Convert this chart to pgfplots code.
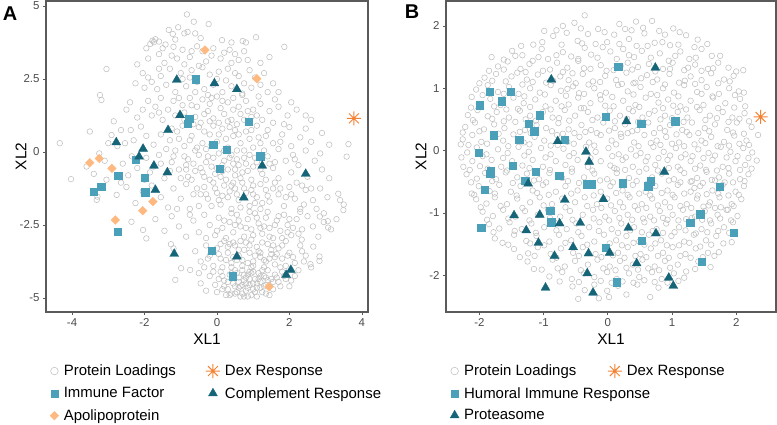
\documentclass[border=0pt]{standalone}
\usepackage{fontspec}
\setmainfont{Liberation Sans}
\usepackage{pgfplots}
\pgfplotsset{compat=1.18}

\definecolor{ptgray}{RGB}{192,192,192}
\definecolor{immune}{RGB}{74,160,184}
\definecolor{complement}{RGB}{21,100,120}
\definecolor{apo}{RGB}{253,185,128}
\definecolor{dex}{RGB}{245,130,50}
\definecolor{frame}{RGB}{90,90,90}

% ggplot shape 8: plus and cross on top of each other
\pgfdeclareplotmark{ggast}{%
  \pgfpathmoveto{\pgfqpoint{-\pgfplotmarksize}{0pt}}%
  \pgfpathlineto{\pgfqpoint{\pgfplotmarksize}{0pt}}%
  \pgfpathmoveto{\pgfqpoint{0pt}{-\pgfplotmarksize}}%
  \pgfpathlineto{\pgfqpoint{0pt}{\pgfplotmarksize}}%
  \pgfpathmoveto{\pgfqpoint{-0.7071\pgfplotmarksize}{-0.7071\pgfplotmarksize}}%
  \pgfpathlineto{\pgfqpoint{0.7071\pgfplotmarksize}{0.7071\pgfplotmarksize}}%
  \pgfpathmoveto{\pgfqpoint{-0.7071\pgfplotmarksize}{0.7071\pgfplotmarksize}}%
  \pgfpathlineto{\pgfqpoint{0.7071\pgfplotmarksize}{-0.7071\pgfplotmarksize}}%
  \pgfusepathqstroke}

\pgfplotsset{
  ggpanel/.style={
    scale only axis, anchor=south west,
    axis line style={frame, line width=1.1bp},
    tick style={frame, line width=0.6bp},
    major tick length=3bp, tick align=outside,
    xtick pos=bottom, ytick pos=left,
    /pgf/number format/assume math mode=true,
    ticklabel style={font=\fontsize{11.5}{13}\selectfont, text=black!70},
    xlabel={XL1}, ylabel={XL2},
    every axis x label/.style={at={(axis description cs:0.5,-0.087)}, anchor=center,
      font=\fontsize{15.5}{17}\selectfont},
    legend columns=2,
    legend cell align=left,
    legend style={draw=none, fill=none, anchor=north west,
      font=\fontsize{15}{17}\selectfont, inner sep=0pt,
      row sep=6bp,
      /tikz/every odd column/.append style={column sep=3bp},
      /tikz/every even column/.append style={column sep=28bp}},
  },
  grayset/.style={only marks, mark=o, mark size=2.8bp, mark options={draw=ptgray, line width=0.55bp},
    legend image post style={mark size=3.8bp}},
  dexset/.style={only marks, mark=ggast, mark size=7bp, mark options={draw=dex, line width=1bp}},
  sqset/.style={only marks, mark=square*, mark size=3.7bp, mark options={fill=immune, draw=immune, line width=0.3bp}},
  triset/.style={only marks, mark=triangle*, mark size=5.2bp, mark options={fill=complement, draw=complement, line width=0.3bp}},
  diaset/.style={only marks, mark=square*, mark size=3.1bp, mark options={rotate=45, fill=apo, draw=apo, line width=0.3bp}},
}

\begin{document}
\begin{tikzpicture}
\useasboundingbox (0,0) rectangle (777bp,425bp);

% ---------------- panel A ----------------
\begin{axis}[ggpanel,
  at={(46bp,113bp)}, width=322bp, height=311bp,
  xmin=-4.72, xmax=4.17, ymin=-5.48, ymax=5.17,
  xtick={-4,-2,0,2,4}, ytick={-5,-2.5,0,2.5,5},
  every axis y label/.style={at={(axis description cs:-0.078,0.5)}, rotate=90, anchor=center,
    font=\fontsize{15.5}{17}\selectfont},
  legend style={at={(axis description cs:0.012,-0.163)}},
]
\addplot[grayset] coordinates {
(-0.83,4.71) (-0.64,4.46) (-0.23,4.38) (-1.07,4.27) (-1.33,4.18) (-1.22,4.04) (-0.90,4.06) (-0.81,4.11) (-0.60,4.06)
(-1.78,3.81) (-1.70,3.86) (-1.84,3.70) (-1.74,3.76) (-1.60,3.78) (-1.42,3.68) (0.14,3.83) (0.71,3.80) (0.80,3.75)
(1.08,3.93) (1.86,3.60) (-1.50,3.55) (-1.20,3.60) (-0.95,3.50) (-0.55,3.62) (-0.40,3.45) (-0.10,3.55) (0.35,3.50)
(0.50,3.35) (-1.25,3.30) (-0.75,3.25) (-1.90,3.20) (-0.30,3.10) (0.10,3.20) (0.85,3.15) (1.20,3.05) (-1.45,3.05)
(-0.90,3.00) (0.40,3.05) (-0.15,3.30) (-1.60,3.35)
(-1.15,3.85) (-0.45,3.90) (0.40,3.75) (-1.95,3.55) (-0.70,3.45) (0.20,3.40) (0.75,3.45) (-2.20,3.00) (-1.10,3.20)
(-0.50,2.95) (0.60,3.15) (1.45,3.25)
(-3.05,2.84) (-2.05,2.70) (-1.80,2.40) (-1.55,2.60) (-1.30,2.85) (-1.00,2.70) (-0.70,2.80) (-0.40,2.90) (-0.20,2.65)
(0.05,2.75) (0.30,2.85) (0.60,2.60) (0.90,2.80) (1.30,2.70) (1.55,2.35) (1.70,2.05) (-2.00,2.20) (-1.65,2.15)
(-1.40,2.30) (-1.15,2.05) (-0.85,2.25) (-0.55,2.40) (-0.35,2.15) (-0.10,2.30) (0.15,2.05) (0.40,2.25) (0.70,2.00)
(0.95,2.20) (1.20,2.30) (-0.60,2.05) (-0.25,1.95) (0.25,2.45) (-1.90,2.55) (-0.95,2.50) (0.50,2.70) (1.05,2.55)
(-2.25,2.35) (-1.60,2.85) (-0.75,2.55) (0.00,2.50) (0.75,2.35) (1.40,2.05)
(-3.23,1.95) (-3.19,1.78) (-2.40,1.70) (-2.20,1.18) (-2.38,0.75) (-2.10,0.87) (-1.90,1.75) (-1.70,1.55) (-1.55,1.85)
(-1.35,1.45) (-1.20,1.75) (-0.95,1.60) (-0.75,1.85) (-0.55,1.55) (-0.40,1.80) (-0.20,1.65) (0.00,1.90) (0.10,1.50)
(0.30,1.70) (0.45,1.85) (0.60,1.55) (0.80,1.75) (1.00,1.45) (1.20,1.65) (1.45,1.40) (1.70,1.55) (1.95,1.25)
(2.20,1.45) (2.60,1.10) (-1.80,1.25) (-1.50,1.10) (-1.15,1.25) (-0.90,1.35) (-0.60,1.20) (-0.35,1.30) (-0.10,1.15)
(0.20,1.30) (0.40,1.10) (0.65,1.30) (0.95,1.20) (1.25,1.10) (1.55,1.00) (1.85,0.95) (2.45,0.80) (-0.45,1.00)
(0.05,1.00) (0.55,0.95) (-0.70,1.60) (0.15,1.75) (0.70,1.95) (-0.25,1.40) (0.85,1.40)
(-2.50,1.45) (-2.05,1.45) (-1.60,1.35) (-1.05,1.85) (-0.15,1.85) (0.45,1.45) (1.15,1.90) (1.60,1.80) (2.05,1.70)
(2.45,1.25) (2.90,0.65) (3.10,0.25) (-2.85,1.05) (-2.65,0.75)
(-0.90,1.10) (-0.65,0.95) (-0.20,1.05) (0.30,1.05) (0.75,1.10) (1.10,1.25) (-1.05,0.45) (-1.25,0.80)
(-4.34,0.30) (-3.51,0.70) (-2.91,0.58) (-2.54,0.30) (-2.30,0.40) (-1.95,0.55) (-1.75,0.25) (-1.55,0.60) (-1.30,0.40)
(-1.10,0.70) (-0.90,0.20) (-0.70,0.55) (-0.50,0.85) (-0.40,0.30) (-0.20,0.60) (0.00,0.35) (0.15,0.80) (0.30,0.15)
(0.45,0.55) (0.65,0.30) (0.80,0.70) (1.00,0.15) (1.15,0.50) (1.40,0.75) (1.55,0.30) (1.80,0.60) (2.05,0.20)
(2.30,0.50) (2.60,0.35) (3.63,0.27) (3.58,-0.16) (-0.95,0.90) (-0.60,0.05) (-0.30,0.10) (0.55,0.05) (0.90,0.45)
(1.30,0.05) (1.70,0.10) (2.45,0.05) (-1.40,0.10) (-1.15,0.05) (-0.10,0.90) (0.25,0.45) (-2.75,0.20) (-3.00,0.30)
(-3.25,-0.05) (2.00,0.85) (1.10,0.90) (0.50,0.75) (2.85,-0.05)
(-0.75,0.40) (-0.55,0.15) (-0.35,0.70) (-0.15,0.25) (0.05,0.60) (0.20,0.05) (0.35,0.85) (0.60,0.60) (0.75,0.05)
(0.95,0.75) (1.20,0.30) (1.35,0.55) (1.75,0.35)
(-4.03,-0.93) (-3.60,-0.50) (-3.40,-0.75) (-3.10,-0.30) (-3.05,-0.95) (-2.60,-0.40) (-2.45,-0.80) (-2.20,-0.55)
(-1.95,-0.20) (-1.85,-0.70) (-1.60,-0.10) (-1.45,-0.90) (-1.25,-0.35) (-1.05,-0.60) (-0.90,-0.15) (-0.80,-0.85)
(-0.65,-0.40) (-0.50,-0.10) (-0.40,-0.70) (-0.30,-0.35) (-0.20,-0.95) (-0.10,-0.20) (0.00,-0.55) (0.10,-0.85)
(0.20,-0.30) (0.30,-0.60) (0.40,-0.10) (0.50,-0.80) (0.60,-0.45) (0.75,-0.20) (0.85,-0.65) (0.95,-0.95) (1.10,-0.35)
(1.25,-0.75) (1.40,-0.15) (1.55,-0.55) (1.70,-0.90) (1.90,-0.30) (2.05,-0.70) (2.25,-0.45) (2.50,-0.85) (2.70,-0.30)
(2.90,-0.60) (3.10,-0.90) (-0.70,-0.95) (-0.45,-0.55) (-0.15,-0.50) (0.05,-0.05) (0.25,-0.95) (0.45,-0.40)
(0.70,-0.70) (0.90,-0.10) (1.00,-0.50) (1.35,-0.95) (-1.00,-0.90) (-0.35,-0.85) (0.15,-0.65) (0.55,-0.25)
(-0.85,-0.45) (1.60,-0.35) (2.10,-0.10) (-2.00,-0.95) (-1.20,-0.15)
(-0.80,-0.25) (-0.60,-0.65) (-0.25,-0.15) (-0.05,-0.75) (0.15,-0.45) (0.35,-0.20) (0.50,-0.60) (0.65,-0.90)
(0.80,-0.40) (1.05,-0.20) (1.20,-0.60) (1.45,-0.40) (-0.85,-0.60) (-1.30,-0.65) (-1.55,-0.40) (-1.75,-0.50)
(-2.35,-0.15) (2.15,-0.25)
(-3.32,-1.64) (-3.30,-1.53) (-2.77,-1.47) (-2.50,-1.20) (-2.25,-1.75) (-2.05,-1.35) (-1.80,-1.15) (-1.55,-1.55)
(-1.35,-1.90) (-1.20,-1.25) (-1.00,-1.60) (-0.85,-1.10) (-0.65,-1.45) (-0.50,-1.85) (-0.35,-1.20) (-0.25,-1.60)
(-0.10,-1.05) (0.00,-1.40) (0.10,-1.80) (0.20,-1.15) (0.30,-1.55) (0.40,-1.95) (0.50,-1.25) (0.60,-1.65) (0.70,-1.05)
(0.80,-1.40) (0.90,-1.85) (1.00,-1.15) (1.10,-1.55) (1.20,-1.95) (1.35,-1.30) (1.45,-1.70) (1.60,-1.05) (1.70,-1.45)
(1.85,-1.85) (2.00,-1.20) (2.15,-1.60) (2.30,-1.95) (2.45,-1.30) (2.65,-1.65) (2.85,-1.25) (3.05,-1.55) (3.40,-1.65)
(3.49,-1.99) (3.35,-1.43) (-0.75,-1.95) (-0.45,-1.45) (0.05,-1.65) (0.35,-1.35) (0.65,-1.90) (0.95,-1.30) (1.25,-1.75)
(1.55,-1.25) (1.90,-1.55) (2.20,-1.05) (2.40,-1.80) (-1.10,-1.95) (-0.15,-1.85) (0.45,-1.05) (1.05,-1.75)
(-0.55,-1.25) (-0.30,-1.45) (-0.05,-1.25) (0.15,-1.50) (0.40,-1.15) (0.55,-1.45) (0.75,-1.25) (1.00,-1.45)
(1.20,-1.10) (1.40,-1.50) (1.75,-1.25) (2.05,-1.45) (-2.65,-1.05) (2.35,-1.15) (2.60,-1.25) (2.75,-1.95)
(-2.04,-2.67) (-1.95,-2.96) (-2.36,-2.39) (-1.70,-2.30) (-1.45,-2.70) (-1.25,-2.20) (-1.05,-2.55) (-0.85,-2.90)
(-0.65,-2.35) (-0.50,-2.75) (-0.35,-2.15) (-0.20,-2.50) (-0.05,-2.85) (0.05,-2.25) (0.15,-2.60) (0.25,-2.95)
(0.35,-2.40) (0.45,-2.75) (0.55,-2.15) (0.65,-2.55) (0.75,-2.90) (0.85,-2.30) (0.95,-2.65) (1.05,-2.10) (1.15,-2.45)
(1.25,-2.80) (1.35,-2.25) (1.45,-2.60) (1.55,-2.95) (1.65,-2.35) (1.75,-2.70) (1.85,-2.15) (1.95,-2.50) (2.05,-2.85)
(2.20,-2.30) (2.35,-2.65) (2.50,-2.20) (2.65,-2.55) (2.80,-2.90) (2.95,-2.40) (3.15,-2.65) (3.30,-2.30) (-0.75,-2.15)
(0.00,-2.70) (0.60,-2.35) (1.00,-2.85) (1.40,-2.05) (1.80,-2.95) (2.30,-2.05) (-0.30,-2.95) (0.40,-2.10) (1.20,-2.60)
(2.10,-2.60) (0.90,-2.05) (1.60,-2.50) (2.84,-2.21) (3.07,-2.59) (2.66,-3.24) (2.34,-3.00) (2.95,-2.10)
(0.20,-2.35) (0.50,-2.50) (0.80,-2.60) (1.10,-2.25) (1.30,-2.55) (1.70,-2.20) (2.00,-2.30) (2.25,-2.80) (1.95,-2.75)
(1.45,-2.90) (0.95,-3.00)
(-1.27,-3.16) (-1.20,-3.30) (-0.99,-3.98) (-1.15,-4.38) (-0.74,-4.04) (-0.60,-3.40) (-0.45,-3.75) (-0.30,-3.20)
(-0.20,-3.55) (-0.10,-3.90) (0.00,-3.30) (0.10,-3.65) (0.20,-3.05) (0.30,-3.45) (0.40,-3.80) (0.50,-3.20) (0.60,-3.55)
(0.70,-3.90) (0.80,-3.10) (0.90,-3.45) (1.00,-3.75) (1.10,-3.25) (1.20,-3.60) (1.30,-3.95) (1.40,-3.15) (1.50,-3.50)
(1.60,-3.85) (1.70,-3.30) (1.80,-3.65) (1.90,-3.05) (2.00,-3.45) (2.15,-3.80) (2.30,-3.20) (2.45,-3.55) (2.58,-3.84)
(2.60,-3.95) (2.83,-3.58) (2.83,-3.73) (3.06,-2.37) (3.50,-1.80) (0.15,-3.95) (0.35,-3.15) (0.55,-3.70) (0.75,-3.35)
(0.95,-3.95) (1.15,-3.40) (1.35,-3.75) (1.55,-3.20) (1.75,-3.95) (1.95,-3.55) (0.25,-3.70) (0.65,-3.05) (1.05,-3.55)
(1.45,-3.65) (0.85,-3.80) (1.25,-3.10) (0.45,-3.60) (1.65,-3.50) (-0.35,-3.95) (0.05,-3.50)
(0.30,-3.25) (0.60,-3.35) (0.90,-3.20) (1.20,-3.45) (1.50,-3.35) (1.80,-3.20) (2.10,-3.60) (0.40,-3.95) (0.70,-3.70)
(1.00,-3.90) (1.30,-3.70) (1.60,-3.60) (1.90,-3.90) (2.40,-3.75) (2.35,-3.40) (0.45,-3.10) (0.10,-3.15) (-0.25,-3.65)
(0.10,-4.10) (0.20,-4.40) (0.30,-4.70) (0.35,-4.20) (0.45,-4.50) (0.50,-4.05) (0.55,-4.80) (0.60,-4.30) (0.65,-4.60)
(0.70,-4.05) (0.75,-4.40) (0.80,-4.75) (0.85,-4.20) (0.90,-4.55) (0.95,-4.90) (1.00,-4.10) (1.05,-4.35) (1.10,-4.65)
(1.15,-4.15) (1.20,-4.45) (1.25,-4.80) (1.30,-4.25) (1.35,-4.55) (1.40,-4.05) (1.50,-4.35) (1.55,-4.70) (1.60,-4.20)
(1.70,-4.45) (1.80,-4.10) (1.90,-4.35) (2.00,-4.60) (2.15,-4.25) (0.25,-4.90) (0.40,-4.85) (0.65,-4.95) (0.85,-4.95)
(-0.20,-4.25) (-0.05,-4.55) (0.15,-4.70) (0.70,-4.85) (1.45,-4.90) (0.40,-4.15) (0.80,-4.50) (1.00,-4.70) (1.20,-4.25)
(0.60,-4.45) (0.90,-4.35) (1.10,-4.50) (0.50,-4.60) (1.30,-4.60) (0.75,-4.20) (0.95,-4.15) (1.40,-4.40) (-0.45,-4.50)
(-0.30,-4.75) (0.00,-4.80)
(0.15,-4.25) (0.30,-4.45) (0.45,-4.30) (0.55,-4.15) (0.60,-4.65) (0.70,-4.55) (0.80,-4.30) (0.85,-4.65) (0.90,-4.10)
(1.00,-4.50) (1.05,-4.80) (1.15,-4.35) (1.20,-4.65) (1.25,-4.05) (1.35,-4.30) (1.45,-4.60) (1.55,-4.45) (1.65,-4.30)
(1.75,-4.60) (1.85,-4.25) (2.05,-4.40) (0.20,-4.60) (0.35,-4.90) (0.50,-4.85) (0.75,-4.95) (1.10,-4.95) (1.35,-4.85)
(0.05,-4.35) (-0.10,-4.10) (-0.50,-4.15) (2.25,-4.05)
};
\addlegendentry{Protein Loadings}
\addplot[dexset] coordinates {(3.78,1.15)};
\addlegendentry{Dex Response}
\addplot[sqset] coordinates {
(-0.59,2.49) (-0.77,1.15) (-0.81,0.96) (0.87,1.04) (-0.10,0.26) (0.27,0.07) (1.19,-0.14) (-2.24,-0.27) (0.07,-0.58)
(-2.73,-0.82) (-1.99,-0.87) (-3.20,-1.19) (-3.40,-1.35) (-1.98,-1.38) (-2.75,-2.73) (-0.14,-3.38) (0.43,-4.25)
};
\addlegendentry{Immune Factor}
\addplot[triset] coordinates {
(-1.11,2.47) (-0.07,2.35) (0.55,2.15) (-1.02,1.26) (-1.35,0.75) (-2.78,0.33) (-2.04,0.11) (-2.15,-0.16) (-1.74,-0.47)
(-1.37,-0.70) (-1.70,-1.30) (1.25,-0.47) (2.45,-0.75) (0.74,-1.56) (-1.18,-3.49) (0.55,-3.58) (2.04,-4.04) (1.91,-4.21)
};
\addlegendentry{Complement Response}
\addplot[diaset] coordinates {
(-0.33,3.49) (1.10,2.51) (-3.51,-0.37) (-3.25,-0.22) (-2.90,-0.56) (-1.77,-1.70) (-2.05,-2.01) (-2.81,-2.33) (1.44,-4.61)
};
\addlegendentry{Apolipoprotein}
\end{axis}

% ---------------- panel B ----------------
\begin{axis}[ggpanel,
  at={(446bp,113bp)}, width=330bp, height=311bp,
  xmin=-2.52, xmax=2.62, ymin=-2.59, ymax=2.40,
  xtick={-2,-1,0,1,2}, ytick={-2,-1,0,1,2},
  every axis y label/.style={at={(axis description cs:-0.076,0.5)}, rotate=90, anchor=center,
    font=\fontsize{15.5}{17}\selectfont},
  legend style={at={(axis description cs:0.012,-0.163)}},
]
\addplot[grayset] coordinates {
(-0.36,2.17) (-0.70,2.00) (0.44,2.07) (0.69,2.08) (-0.99,1.92) (-0.15,1.95) (0.18,2.03) (1.02,1.96) (0.37,1.93) (-0.52,2.05)
(-0.80,1.93) (-0.42,1.96) (-0.05,1.90) (0.27,1.95) (0.55,1.97) (0.80,1.92) (1.12,1.90)
(-1.16,1.70) (-0.85,1.84) (-0.64,1.89) (-0.47,1.76) (-0.31,1.87) (-0.01,1.74) (0.10,1.86) (0.33,1.79) (0.57,1.88) (0.73,1.73)
(0.89,1.86) (1.22,1.85) (0.62,1.68) (0.97,1.69) (-0.19,1.71) (1.40,1.78)
(-1.35,1.68) (-1.02,1.74) (-0.72,1.70) (-0.40,1.72) (-0.08,1.66) (0.18,1.71) (0.45,1.68) (0.85,1.74) (1.10,1.70) (1.35,1.66) (1.55,1.71)
(-1.49,1.60) (-1.81,1.50) (-1.33,1.53) (-1.03,1.63) (-0.93,1.47) (-0.70,1.58) (-0.57,1.51) (-0.36,1.65) (-0.16,1.49) (0.04,1.59)
(0.24,1.63) (0.41,1.50) (0.53,1.60) (0.81,1.56) (1.13,1.59) (1.27,1.47) (1.46,1.63) (-1.17,1.44) (0.95,1.44) (1.62,1.52)
(-1.62,1.46) (-1.44,1.52) (-1.08,1.50) (-0.80,1.53) (-0.46,1.47) (-0.26,1.54) (0.14,1.47) (0.33,1.53) (0.67,1.49) (1.05,1.52) (1.37,1.49) (1.75,1.52)
(-1.71,1.35) (-1.56,1.43) (-1.36,1.31) (-1.22,1.39) (-1.01,1.28) (-0.79,1.41) (-0.63,1.33) (-0.46,1.44) (-0.27,1.31) (-0.11,1.37)
(0.09,1.29) (0.31,1.41) (0.47,1.34) (0.64,1.39) (0.86,1.31) (1.01,1.41) (1.19,1.29) (1.36,1.38) (1.56,1.31) (1.72,1.41)
(2.11,1.29) (-0.55,1.24) (1.88,1.33) (0.20,1.36)
(-1.85,1.28) (-1.62,1.30) (-1.28,1.26) (-0.90,1.30) (-0.70,1.26) (-0.37,1.32) (-0.02,1.28) (0.38,1.30) (0.74,1.27) (0.97,1.31)
(1.25,1.33) (1.46,1.28) (1.64,1.32) (2.00,1.27)
(-1.92,1.17) (-1.74,1.23) (-1.59,1.11) (-1.41,1.25) (-1.26,1.14) (-1.09,1.22) (-0.96,1.09) (-0.74,1.19) (-0.61,1.13) (-0.39,1.23)
(-0.23,1.11) (-0.04,1.20) (0.13,1.13) (0.29,1.25) (0.43,1.09) (0.61,1.21) (0.77,1.14) (0.96,1.23) (1.11,1.09) (1.29,1.19)
(1.46,1.13) (1.61,1.24) (1.81,1.14) (1.96,1.20) (0.52,1.16) (-1.50,1.19)
(-2.00,1.08) (-1.80,1.12) (-1.33,1.06) (-1.17,1.10) (-0.85,1.12) (-0.50,1.08) (-0.30,1.06) (-0.12,1.10) (0.22,1.07) (0.70,1.10)
(0.89,1.06) (1.20,1.12) (1.36,1.07) (1.72,1.08) (1.90,1.11)
(-2.05,0.98) (-1.87,1.05) (-1.71,0.94) (-1.54,1.02) (-1.39,0.91) (-1.21,1.00) (-1.06,0.93) (-0.89,1.05) (-0.73,0.96) (-0.54,1.03)
(-0.37,0.91) (-0.21,1.00) (-0.03,0.93) (0.16,1.05) (0.31,0.95) (0.51,1.02) (0.67,0.91) (0.86,1.00) (1.03,0.93) (1.19,1.05)
(1.39,0.94) (1.54,1.02) (1.73,0.91) (1.89,1.00) (2.04,0.95) (0.40,1.08) (-0.63,0.99)
(-1.95,0.89) (-1.62,0.91) (-1.30,0.87) (-0.98,0.90) (-0.65,0.88) (-0.45,0.92) (-0.12,0.89) (0.07,0.86) (0.40,0.90) (0.77,0.89)
(1.10,0.87) (1.46,0.91) (1.63,0.87) (1.98,0.89) (2.12,0.93)
(-2.12,0.86) (-2.01,0.75) (-1.83,0.83) (-1.67,0.73) (-1.47,0.85) (-1.31,0.76) (-1.13,0.82) (-0.97,0.71) (-0.81,0.80) (-0.61,0.74)
(-0.46,0.85) (-0.27,0.76) (-0.11,0.82) (0.09,0.71) (0.24,0.80) (0.43,0.73) (0.59,0.85) (0.79,0.77) (0.94,0.82) (1.13,0.71)
(1.29,0.80) (1.49,0.73) (1.64,0.85) (1.83,0.76) (2.06,0.83) (1.97,0.69) (-1.58,0.66)
(-2.13,0.69) (-1.77,0.71) (-1.40,0.67) (-1.21,0.70) (-0.89,0.66) (-0.72,0.71) (-0.37,0.68) (-0.04,0.72) (0.33,0.67) (0.49,0.70)
(0.86,0.68) (1.02,0.72) (1.22,0.66) (1.39,0.70) (1.72,0.68) (2.14,0.71)
(-2.18,0.57) (-2.03,0.65) (-1.87,0.55) (-1.73,0.62) (-1.54,0.53) (-1.37,0.64) (-1.21,0.56) (-1.01,0.62) (-0.86,0.53) (-0.67,0.65)
(-0.51,0.56) (-0.31,0.62) (-0.16,0.53) (0.03,0.64) (0.19,0.56) (0.39,0.63) (0.54,0.53) (0.73,0.64) (0.89,0.56) (1.09,0.62)
(1.24,0.53) (1.43,0.65) (1.59,0.56) (1.79,0.62) (1.94,0.53) (2.13,0.60) (0.64,0.59) (-0.42,0.68)
(-2.10,0.49) (-1.80,0.51) (-1.62,0.47) (-1.28,0.50) (-1.12,0.48) (-0.76,0.52) (-0.60,0.48) (-0.24,0.49) (0.11,0.47) (0.30,0.51)
(0.47,0.46) (0.82,0.50) (1.00,0.52) (1.18,0.46) (1.52,0.49) (1.70,0.52) (1.88,0.46) (2.05,0.51) (2.20,0.47)
(-2.22,0.38) (-2.07,0.45) (-1.93,0.34) (-1.77,0.42) (-1.61,0.36) (-1.44,0.46) (-1.29,0.33) (-1.11,0.41) (-0.96,0.36) (-0.77,0.44)
(-0.61,0.34) (-0.41,0.41) (-0.26,0.33) (-0.07,0.45) (0.11,0.36) (0.27,0.42) (0.46,0.33) (0.63,0.45) (0.81,0.36) (0.97,0.41)
(1.16,0.33) (1.31,0.45) (1.51,0.36) (1.67,0.42) (1.86,0.33) (2.01,0.45) (2.24,0.38) (1.06,0.48) (-0.52,0.28)
(-2.26,0.29) (-2.00,0.31) (-1.70,0.27) (-1.37,0.30) (-1.20,0.28) (-0.87,0.31) (-0.70,0.27) (-0.35,0.30) (-0.17,0.28) (0.02,0.32)
(0.20,0.27) (0.38,0.31) (0.72,0.28) (0.89,0.31) (1.07,0.26) (1.23,0.30) (1.41,0.28) (1.58,0.31) (1.95,0.29) (2.12,0.27)
(-2.26,0.18) (-2.11,0.25) (-1.97,0.14) (-1.79,0.22) (-1.63,0.16) (-1.47,0.26) (-1.31,0.13) (-1.14,0.22) (-0.99,0.16) (-0.79,0.25)
(-0.63,0.14) (-0.44,0.22) (-0.29,0.13) (-0.11,0.25) (0.06,0.16) (0.21,0.22) (0.41,0.13) (0.57,0.25) (0.76,0.16) (0.91,0.22)
(1.11,0.13) (1.27,0.25) (1.46,0.16) (1.61,0.22) (1.81,0.14) (1.97,0.24) (2.16,0.16) (2.34,0.25) (0.31,0.28) (1.71,0.07)
(-2.17,0.09) (-1.88,0.11) (-1.55,0.07) (-1.22,0.10) (-0.89,0.08) (-0.53,0.11) (-0.21,0.08) (0.13,0.10) (0.48,0.07) (0.67,0.12)
(0.82,0.09) (1.00,0.11) (1.19,0.07) (1.35,0.10) (1.52,0.12) (1.89,0.08) (2.05,0.11) (2.20,0.09)
(-2.29,0.10) (-2.19,-0.03) (-2.04,0.05) (-1.89,-0.06) (-1.71,0.02) (-1.56,-0.04) (-1.39,0.06) (-1.23,-0.02) (-1.04,0.04) (-0.89,-0.06)
(-0.69,0.03) (-0.53,-0.04) (-0.34,0.06) (-0.19,-0.02) (0.01,0.04) (0.17,-0.06) (0.36,0.02) (0.51,-0.04) (0.71,0.06) (0.87,-0.02)
(1.06,0.04) (1.21,-0.06) (1.41,0.02) (1.57,-0.04) (1.76,0.06) (1.91,-0.02) (2.11,0.04) (2.25,-0.03) (-0.78,0.09) (0.62,-0.10)
(-2.28,-0.11) (-1.95,-0.09) (-1.63,-0.12) (-1.30,-0.08) (-0.97,-0.11) (-0.60,-0.09) (-0.27,-0.12) (0.07,-0.09) (0.28,-0.11) (0.44,-0.08)
(0.79,-0.12) (0.97,-0.08) (1.14,-0.11) (1.32,-0.09) (1.49,-0.12) (1.67,-0.08) (1.85,-0.11) (2.02,-0.09) (2.19,-0.12)
(-2.25,-0.26) (-2.11,-0.17) (-1.99,-0.25) (-1.81,-0.15) (-1.66,-0.26) (-1.49,-0.17) (-1.33,-0.24) (-1.17,-0.15) (-1.01,-0.26) (-0.81,-0.17)
(-0.66,-0.23) (-0.47,-0.15) (-0.31,-0.26) (-0.11,-0.17) (0.04,-0.24) (0.23,-0.15) (0.39,-0.26) (0.59,-0.17) (0.74,-0.23) (0.93,-0.15)
(1.09,-0.26) (1.29,-0.17) (1.44,-0.24) (1.63,-0.15) (1.79,-0.26) (1.99,-0.17) (2.14,-0.23) (2.32,-0.16) (0.14,-0.30) (1.53,-0.31)
(-2.15,-0.31) (-1.87,-0.29) (-1.57,-0.32) (-1.22,-0.28) (-0.90,-0.31) (-0.56,-0.29) (-0.24,-0.32) (0.10,-0.28) (0.27,-0.31) (0.60,-0.29)
(0.78,-0.32) (0.95,-0.28) (1.13,-0.31) (1.36,-0.29) (1.70,-0.32) (1.88,-0.28) (2.06,-0.31) (2.24,-0.29)
(-2.20,-0.38) (-2.04,-0.45) (-1.91,-0.36) (-1.74,-0.46) (-1.59,-0.35) (-1.41,-0.43) (-1.26,-0.37) (-1.07,-0.46) (-0.91,-0.36) (-0.71,-0.44)
(-0.56,-0.34) (-0.37,-0.43) (-0.21,-0.37) (-0.01,-0.46) (0.14,-0.36) (0.33,-0.44) (0.49,-0.34) (0.69,-0.43) (0.84,-0.37) (1.03,-0.46)
(1.19,-0.36) (1.39,-0.44) (1.54,-0.34) (1.73,-0.43) (1.89,-0.37) (2.06,-0.46) (2.19,-0.38) (1.29,-0.50) (1.82,-0.51) (1.62,-0.47)
(-2.13,-0.51) (-1.80,-0.49) (-1.48,-0.52) (-1.15,-0.48) (-0.96,-0.51) (-0.62,-0.49) (-0.45,-0.52) (-0.12,-0.48) (0.08,-0.51) (0.45,-0.49)
(0.62,-0.53) (0.95,-0.48) (1.13,-0.51) (1.31,-0.49) (1.48,-0.52) (1.67,-0.48) (1.95,-0.51) (2.13,-0.49)
(-2.12,-0.69) (-2.01,-0.57) (-1.84,-0.65) (-1.69,-0.55) (-1.51,-0.66) (-1.36,-0.57) (-1.17,-0.64) (-1.01,-0.55) (-0.81,-0.66) (-0.66,-0.57)
(-0.47,-0.64) (-0.31,-0.55) (-0.11,-0.66) (0.04,-0.57) (0.23,-0.64) (0.39,-0.55) (0.59,-0.66) (0.74,-0.57) (0.93,-0.64) (1.09,-0.55)
(1.29,-0.66) (1.44,-0.57) (1.63,-0.64) (1.79,-0.55) (1.99,-0.66) (2.12,-0.57) (1.54,-0.70) (1.88,-0.72) (1.35,-0.60)
(-2.08,-0.71) (-1.76,-0.69) (-1.42,-0.72) (-1.10,-0.68) (-0.92,-0.71) (-0.57,-0.69) (-0.22,-0.72) (0.13,-0.68) (0.31,-0.71) (0.49,-0.69)
(0.66,-0.72) (0.84,-0.68) (1.01,-0.71) (1.19,-0.69) (1.40,-0.72) (1.72,-0.69) (2.04,-0.71)
(-2.05,-0.78) (-1.89,-0.85) (-1.76,-0.75) (-1.57,-0.86) (-1.41,-0.77) (-1.21,-0.83) (-1.06,-0.75) (-0.87,-0.86) (-0.71,-0.77) (-0.51,-0.83)
(-0.36,-0.75) (-0.17,-0.86) (-0.01,-0.77) (0.19,-0.83) (0.34,-0.75) (0.53,-0.86) (0.69,-0.77) (0.89,-0.83) (1.04,-0.75) (1.23,-0.86)
(1.39,-0.77) (1.59,-0.83) (1.74,-0.75) (1.93,-0.86) (2.08,-0.78) (1.49,-0.90) (1.85,-0.95) (1.67,-0.92)
(-1.98,-0.91) (-1.67,-0.89) (-1.33,-0.92) (-1.00,-0.88) (-0.66,-0.91) (-0.32,-0.89) (-0.10,-0.92) (0.05,-0.88) (0.24,-0.91) (0.42,-0.89)
(0.60,-0.92) (0.78,-0.88) (0.97,-0.91) (1.13,-0.89) (1.30,-0.92) (1.57,-0.88) (1.76,-0.91) (1.96,-0.89)
(-1.95,-0.98) (-1.79,-1.05) (-1.63,-0.95) (-1.44,-1.06) (-1.29,-0.97) (-1.09,-1.03) (-0.93,-0.95) (-0.74,-1.06) (-0.59,-0.97) (-0.39,-1.03)
(-0.23,-0.95) (-0.04,-1.06) (0.11,-0.97) (0.31,-1.03) (0.47,-0.95) (0.66,-1.06) (0.81,-0.97) (1.01,-1.03) (1.17,-0.95) (1.36,-1.06)
(1.51,-0.97) (1.71,-1.03) (1.87,-0.95) (2.02,-1.05) (1.22,-1.10) (1.59,-1.12) (0.93,-1.11)
(-1.88,-1.11) (-1.55,-1.09) (-1.22,-1.12) (-0.90,-1.08) (-0.55,-1.11) (-0.22,-1.09) (0.02,-1.12) (0.18,-1.08) (0.38,-1.11) (0.55,-1.09)
(0.72,-1.12) (0.86,-1.08) (1.10,-1.12) (1.31,-1.08) (1.47,-1.11) (1.75,-1.09) (1.92,-1.12)
(-1.85,-1.18) (-1.69,-1.25) (-1.53,-1.15) (-1.34,-1.26) (-1.19,-1.17) (-0.99,-1.23) (-0.83,-1.15) (-0.64,-1.26) (-0.49,-1.17) (-0.29,-1.23)
(-0.13,-1.15) (0.06,-1.26) (0.21,-1.17) (0.41,-1.23) (0.57,-1.15) (0.76,-1.26) (0.91,-1.17) (1.11,-1.23) (1.27,-1.15) (1.46,-1.26)
(1.61,-1.17) (1.81,-1.23) (1.95,-1.15) (1.04,-1.31) (1.37,-1.33)
(-1.78,-1.31) (-1.45,-1.29) (-1.12,-1.32) (-0.80,-1.28) (-0.46,-1.31) (-0.14,-1.29) (0.16,-1.32) (0.35,-1.28) (0.53,-1.31) (0.70,-1.29)
(0.86,-1.32) (1.21,-1.28) (1.55,-1.31) (1.72,-1.29) (1.89,-1.32)
(-1.76,-1.41) (-1.64,-1.48) (-1.46,-1.35) (-1.27,-1.45) (-1.11,-1.37) (-0.91,-1.46) (-0.76,-1.35) (-0.57,-1.44) (-0.41,-1.37) (-0.21,-1.46)
(-0.06,-1.35) (0.13,-1.44) (0.29,-1.37) (0.49,-1.46) (0.64,-1.35) (0.83,-1.44) (0.99,-1.37) (1.19,-1.46) (1.34,-1.35) (1.53,-1.44)
(1.69,-1.37) (1.93,-1.47) (1.11,-1.52) (1.44,-1.54)
(-1.55,-1.51) (-1.21,-1.49) (-0.99,-1.52) (-0.66,-1.48) (-0.32,-1.51) (0.03,-1.49) (0.22,-1.52) (0.40,-1.48) (0.57,-1.51) (0.74,-1.49)
(0.92,-1.52) (1.27,-1.48) (1.61,-1.51) (1.80,-1.49)
(-1.46,-1.58) (-1.24,-1.65) (-1.09,-1.55) (-0.89,-1.66) (-0.73,-1.57) (-0.54,-1.64) (-0.39,-1.55) (-0.19,-1.66) (-0.03,-1.57) (0.16,-1.64)
(0.31,-1.55) (0.51,-1.66) (0.67,-1.57) (0.86,-1.64) (1.01,-1.55) (1.21,-1.66) (1.37,-1.57) (1.56,-1.64) (1.73,-1.63) (1.29,-1.72)
(-1.37,-1.71) (-1.14,-1.69) (-0.80,-1.72) (-0.45,-1.69) (-0.10,-1.71) (0.08,-1.68) (0.26,-1.72) (0.43,-1.69) (0.60,-1.71) (0.78,-1.69)
(0.95,-1.72) (1.13,-1.69) (1.48,-1.71) (1.66,-1.69)
(-1.25,-1.78) (-1.03,-1.91) (-0.86,-1.75) (-0.67,-1.86) (-0.51,-1.77) (-0.31,-1.83) (-0.16,-1.75) (0.03,-1.86) (0.19,-1.77) (0.39,-1.83)
(0.54,-1.75) (0.73,-1.86) (0.89,-1.77) (1.09,-1.83) (1.22,-1.94) (1.41,-1.78) (1.60,-1.87)
(-1.15,-1.90) (-0.78,-1.89) (-0.42,-1.92) (-0.07,-1.89) (0.12,-1.92) (0.29,-1.88) (0.47,-1.91) (0.63,-1.89) (0.80,-1.92) (0.97,-1.88) (1.36,-1.90)
(-0.91,-2.02) (-0.71,-1.95) (-0.56,-2.06) (-0.37,-1.97) (-0.21,-2.03) (-0.01,-1.95) (0.14,-2.06) (0.33,-1.97) (0.49,-2.03) (0.69,-1.95)
(0.84,-2.06) (1.03,-1.97) (1.19,-2.04)
(-0.75,-2.10) (-0.45,-2.11) (-0.11,-2.09) (0.06,-2.12) (0.23,-2.10) (0.40,-2.12) (0.57,-2.08) (0.73,-2.11) (0.93,-2.12) (1.10,-2.09)
(-0.55,-2.18) (-0.36,-2.24) (-0.21,-2.15) (-0.01,-2.25) (0.16,-2.17) (0.29,-2.31) (0.46,-2.15) (0.66,-2.35) (0.79,-2.20)
(-0.46,-2.38) (0.02,-2.35) (-0.14,-2.37)
};
\addlegendentry{Protein Loadings}
\addplot[dexset] coordinates {(2.38,0.54)};
\addlegendentry{Dex Response}
\addplot[sqset] coordinates {
(0.16,1.35) (-1.84,0.95) (-1.51,0.95) (-1.65,0.79) (-2.00,0.73) (-1.06,0.57) (-0.03,0.54) (1.05,0.47) (0.52,0.43) (-1.23,0.43)
(-1.15,0.31) (-1.78,0.25) (-1.38,0.18) (-0.67,0.18) (-2.01,-0.03) (-1.48,-0.24) (-1.82,-0.32) (-1.83,-0.37) (-1.12,-0.34)
(-0.76,-0.40) (-1.29,-0.48) (-0.33,-0.54) (-0.25,-0.54) (0.23,-0.52) (0.67,-0.49) (0.63,-0.57) (1.74,-0.58) (-1.92,-0.63)
(-0.90,-0.96) (-0.88,-1.15) (1.44,-1.02) (1.28,-1.16) (-1.97,-1.24) (1.96,-1.32) (0.53,-1.45) (-0.03,-1.56) (1.46,-1.78)
(0.14,-2.11)
};
\addlegendentry{\makebox[100bp][l]{Humoral Immune Response}}
\addlegendimage{empty legend}
\addlegendentry{}
\addplot[triset] coordinates {
(-0.88,1.14) (0.74,1.33) (0.29,0.47) (-0.78,0.15) (-0.34,-0.02) (-0.29,-0.18) (0.88,-0.34) (-1.24,-0.53) (-0.67,-0.79)
(-0.07,-0.78) (-1.46,-1.04) (-1.06,-1.03) (-0.75,-1.17) (-0.43,-1.16) (-1.27,-1.28) (0.32,-1.24) (0.75,-1.33) (-1.08,-1.48)
(-0.54,-1.55) (-0.83,-1.69) (-0.30,-1.65) (0.03,-1.64) (0.45,-1.81) (-0.32,-1.97) (0.95,-2.04) (1.02,-2.17) (-0.97,-2.20)
(-0.23,-2.28)
};
\addlegendentry{Proteasome}
\end{axis}

\node[font=\fontsize{20}{22}\selectfont\bfseries] at (10bp,411bp) {A};
\node[font=\fontsize{20}{22}\selectfont\bfseries] at (412bp,413bp) {B};
\end{tikzpicture}
\end{document}
